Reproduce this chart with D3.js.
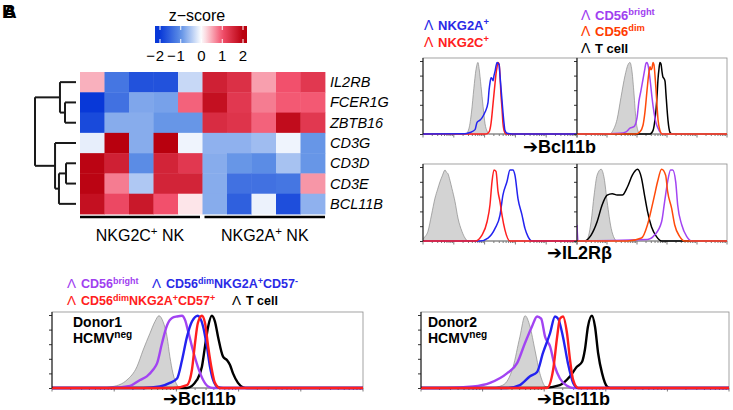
<!DOCTYPE html>
<html><head><meta charset="utf-8">
<script src="https://cdn.jsdelivr.net/npm/d3@7"></script>
<style>body{margin:0;background:#fff} svg text{font-family:"Liberation Sans",Arial,"DejaVu Sans",sans-serif}</style>
</head><body><svg id="c" width="733" height="410"></svg>
<script>
// ---------------- DATA ----------------
const genes = ["IL2RB","FCER1G","ZBTB16","CD3G","CD3D","CD3E","BCL11B"];
const samples = ["C1","C2","C3","C4","C5","A1","A2","A3","A4","A5"];
const groupNames = ["NKG2C","NKG2A"];
const groupMembers = [["C1","C2","C3","C4","C5"],["A1","A2","A3","A4","A5"]];
const zIL2RB  = [0.45,-1.3,-1.7,-1.7,-0.35,1.6,1.4,0.55,1.0,1.3];
const zFCER1G = [-2.0,-1.35,-0.8,-0.85,0.9,1.8,1.3,0.75,0.95,0.95];
const zZBTB16 = [-1.8,-0.75,-0.75,-0.95,-0.95,1.45,1.35,0.9,1.85,1.3];
const zCD3G   = [-0.15,2.2,-0.75,2.0,-0.1,-0.7,-0.7,-0.6,-0.1,-0.95];
const zCD3D   = [1.95,1.6,-1.05,1.55,1.3,-0.75,-0.95,-1.05,-0.55,-0.95];
const zCD3E   = [1.95,0.75,-0.5,1.55,1.55,-0.75,-1.35,-1.35,-1.3,0.6];
const zBCL11B = [1.8,1.1,1.7,1.0,0.15,-0.75,-1.55,-0.12,-1.75,-0.7];
const colorbarTicks = [-2,-1,0,1,2];
// dendrogram (merge heights)
const dendro = {h:45, children:[
  {h:17.6, children:[{name:"IL2RB"},{h:12.1, children:[{name:"FCER1G"},{name:"ZBTB16"}]}]},
  {h:23, children:[{name:"CD3G"},{h:18.7, children:[{h:11, children:[{name:"CD3D"},{name:"CD3E"}]},{name:"BCL11B"}]}]}
]};

// histogram curves: [position % of axis, count % of max]
const p1Gray = [[0,0],[27.9,0],[29.9,8],[31.5,30],[33,62],[34.4,88],[35.7,98],[36.4,90],[37.7,65],[39,38],[40.3,14],[41.6,4],[42.9,0],[100,0]];
const p1NKG2A = [[0,0],[27.3,0.5],[30.5,2],[33.8,6],[35.1,16],[37,19],[38.3,22],[40.3,30],[42.2,43],[42.9,60],[43.5,70],[44.2,77],[44.8,76],[45.5,73],[46.1,80],[46.8,86],[47.4,93],[48.1,98],[49.4,95],[50,80],[51.3,46],[52.6,15],[53.2,5],[54.5,1],[57.8,0],[100,0]];
const p1NKG2C = [[0,0],[40.9,0],[42.9,3],[44.2,15],[45.5,42],[46.8,70],[47.4,82],[48.1,92],[48.7,98],[49.4,96],[50,80],[50.6,55],[51.3,35],[51.9,15],[52.6,5],[53.9,0],[100,0]];

const p2Gray = [[0,0],[22,0],[24,5],[26.7,20],[29.3,50],[32,80],[34,95],[35.3,98],[36.7,85],[38,55],[39.3,20],[40.7,4],[42,0],[100,0]];
const p2Bright = [[0,0],[15.3,0],[28.7,1],[32.7,3],[35.3,8],[38,10],[40,22],[41.3,45],[42.7,60],[44,75],[45.3,90],[46,97],[46.7,98],[47.3,95],[48.7,75],[50,50],[51.3,30],[52.7,15],[54,8],[55.3,3],[57.3,0],[100,0]];
const p2Dim = [[0,0],[39.3,0],[42,3],[44,12],[45.3,30],[46.7,60],[48,85],[48.7,92],[49.3,88],[50,90],[50.7,98],[51.3,95],[52,80],[52.7,60],[53.3,40],[54,20],[55.3,5],[56.7,0],[100,0]];
const p2T = [[0,0],[48.7,0],[50.7,5],[52,20],[53.3,50],[54,75],[54.7,90],[55.3,98],[56,96],[56.7,85],[57.3,78],[58,76],[58.7,72],[59.3,55],[60,35],[60.7,18],[61.3,8],[62,2],[63.3,0],[100,0]];

const p3Gray = [[0,2],[0.6,4],[3.2,13],[5.5,35],[7.8,58],[9.5,70],[11,80],[12.5,88],[14.3,96],[15.2,93],[16.2,91],[17.5,82],[18.8,71],[20.8,53],[22.7,31],[25.3,13],[27.3,4],[29.2,0],[100,0]];
const p3NKG2C = [[0,0],[33.8,0],[38.3,8],[41.6,26],[43.5,49],[44.8,80],[46.1,96],[47.4,94],[48.7,67],[50,53],[51.3,35],[53.2,15],[56.5,0],[100,0]];
const p3NKG2A = [[0,0],[37,0],[42.2,4],[46.8,17],[50,35],[51.9,62],[54.5,80],[56.5,96],[58.4,96],[59.7,89],[61.7,57],[64.3,35],[66.2,17],[68.2,6],[70.8,0],[100,0]];

const p4Gray = [[0,0],[6,0],[9.4,26],[11.4,62],[13.4,89],[16.1,97],[18.1,85],[20.1,53],[22.8,17],[24.8,4],[26.8,0],[100,0]];
const p4T = [[0,0],[4.7,0],[9.4,8],[13.4,26],[16.8,49],[20.1,62],[23.5,64],[26.8,62],[30.2,62],[33.6,73],[36.9,89],[40.3,97],[43,85],[45,62],[47,40],[49.7,19],[53,6],[56.4,0],[100,0]];
const p4Dim = [[0,0],[33.6,0],[43,4],[47,22],[49.7,44],[51.7,62],[53.7,80],[56.4,97],[59.1,89],[60.4,67],[63.1,44],[65.1,22],[68.5,6],[71.8,0],[100,0]];
const p4Bright = [[0,22],[0.7,0],[47,2],[51.7,8],[56.4,26],[58.4,53],[60.4,80],[62.4,96],[63.8,96],[65.8,80],[67.1,49],[69.8,22],[73.2,6],[76.5,0],[100,0]];

const p5Gray = [[0,0],[15.4,0],[19.6,2],[24.1,11],[27.3,29],[29.3,52],[31.5,75],[33.1,91],[34.4,99],[35.7,91],[37,70],[37.9,43],[38.9,20],[40.2,4],[41.2,0],[100,0]];
const p5Bright = [[0,0],[18.6,0],[25.1,3],[28.3,11],[30.5,16],[32.5,25],[33.8,34],[35.4,62],[37,86],[38.6,96],[40.2,98],[41.8,99],[42.8,93],[43.7,79],[45.3,52],[46.9,29],[48.6,11],[50.2,2],[51.8,0],[100,0]];
const p5Neg = [[0,0],[29.3,0],[34.7,2],[37.9,7],[40.2,13],[41.8,38],[43.4,70],[45,91],[46.9,99],[48.6,84],[49.8,57],[50.8,29],[51.8,11],[53.4,1],[55,0],[100,0]];
const p5Pos = [[0,0],[38.9,0],[43.4,4],[45,25],[46,62],[46.9,89],[48.2,99],[49.2,89],[50.2,57],[51.4,25],[52.4,7],[54,0],[100,0]];
const p5T = [[0,0],[43.4,0],[46.6,11],[48.2,29],[49.2,57],[50.2,84],[51.4,99],[52.4,91],[53.4,70],[55,43],[56.3,38],[57.2,32],[58.2,20],[59.8,7],[61.4,1],[62.7,0],[100,0]];

const p6Gray = [[0,0],[22.4,0],[26.6,4],[29.9,29],[32.1,70],[33.8,99],[35.4,84],[37,52],[38.6,20],[40.3,2],[41.2,0],[100,0]];
const p6Bright = [[0,0],[8.4,0],[16.9,2],[22.4,7],[27.9,20],[31.2,34],[33.8,62],[36,84],[37.7,98],[39,95],[40.3,70],[41.9,57],[43.5,29],[45.1,13],[47.4,3],[49.4,0],[100,0]];
const p6Neg = [[0,0],[27.9,0],[32.1,4],[35.4,16],[37.7,22],[39.6,48],[41.9,75],[43.5,98],[44.5,95],[46.1,70],[47.7,34],[49.4,7],[51,0],[100,0]];
const p6Pos = [[0,0],[40.9,0],[42.9,25],[44.2,70],[45.1,95],[46.1,98],[47.4,75],[48.4,38],[49.4,11],[51,0],[100,0]];
const p6T = [[0,0],[39.6,0],[45.1,4],[48.4,16],[50.6,29],[52.3,36],[53.2,52],[54.2,84],[55.5,99],[56.5,84],[57.5,48],[58.8,20],[60.4,2],[61.4,0],[100,0]];

// ---------------- DRAW ----------------
const svg = d3.select("#c");
const C = {blue:"#2323f0", red:"#ff1f1f", purple:"#a244f2", orange:"#ff4a0a", black:"#000", gray:"#d3d3d3"};

function rich(g, x, y, parts, size, color, weight, anchor){
  const t = g.append("text").attr("x",x).attr("y",y).attr("font-size",size)
    .attr("font-weight",weight||"normal").attr("fill",color||"#000")
    .attr("text-anchor",anchor||"start");
  let pending = 0;
  parts.forEach(p=>{
    if(typeof p === "string"){
      const s = t.append("tspan").attr("font-size",size).text(p);
      if(pending){ s.attr("dy",pending); pending = 0; }
    } else {
      const sh = size*0.36;
      t.append("tspan").attr("font-size",size*0.72).attr("dy",-sh).text(p.sup);
      pending = sh;
    }
  });
  return t;
}

// panel letters (overlapping)
svg.append("text").attr("x",2).attr("y",18).attr("font-size",19).attr("font-weight","bold").text("B");
svg.append("text").attr("x",3).attr("y",18).attr("font-size",19).attr("font-weight","bold").text("A");

// heatmap
const zTable = {IL2RB:zIL2RB, FCER1G:zFCER1G, ZBTB16:zZBTB16, CD3G:zCD3G, CD3D:zCD3D, CD3E:zCD3E, BCL11B:zBCL11B};
const color = d3.scaleLinear().domain([-2,-1,0,1,2])
  .range(["#0838d8","#5f90e6","#ffffff","#f2506c","#b8000e"]).clamp(true);
const xb = d3.scaleBand().domain(samples).range([80,325]);
const yb = d3.scaleBand().domain(genes).range([72,214]);
const cells = [];
genes.forEach(g=>samples.forEach((s,i)=>cells.push({g,s,v:zTable[g][i]})));
svg.append("g").selectAll("rect").data(cells).join("rect")
  .attr("x",d=>xb(d.s)).attr("y",d=>yb(d.g))
  .attr("width",xb.bandwidth()+0.4).attr("height",yb.bandwidth()+0.4)
  .attr("fill",d=>color(d.v));
svg.append("g").selectAll("text").data(genes).join("text")
  .attr("x",330).attr("y",d=>yb(d)+yb.bandwidth()/2+5)
  .attr("font-size",14.5).attr("font-style","italic").text(d=>d);

// group bars + labels
groupMembers.forEach((m,i)=>{
  const xa = xb(m[0]) + (i===0?0:2), xz = xb(m[m.length-1])+xb.bandwidth() - (i===0?2.5:0);
  svg.append("line").attr("x1",xa).attr("x2",xz).attr("y1",217).attr("y2",217)
    .attr("stroke","#000").attr("stroke-width",2.6);
  rich(svg,(xa+xz)/2,241,[groupNames[i],{sup:"+"}," NK"],16,"#000","normal","middle");
});

// dendrogram
const root = d3.hierarchy(dendro);
const hx = d3.scaleLinear().domain([0,45]).range([76,35]);
root.eachAfter(n=>{
  if(!n.children){ n.py = yb(n.data.name)+yb.bandwidth()/2; n.px = hx(0); }
  else { n.py = d3.mean(n.children,c=>c.py); n.px = hx(n.data.h); }
});
const dg = svg.append("g").attr("fill","none").attr("stroke","#1a1a1a").attr("stroke-width",2);
root.each(n=>{
  if(n.children){
    const ys = n.children.map(c=>c.py);
    dg.append("line").attr("x1",n.px).attr("x2",n.px).attr("y1",d3.min(ys)).attr("y2",d3.max(ys));
    n.children.forEach(c=>dg.append("line").attr("x1",n.px).attr("x2",c.px).attr("y1",c.py).attr("y2",c.py));
  }
});

// colorbar
const cbx = d3.scaleLinear().domain([-2,2]).range([160,243]);
const cbLo = cbx.invert(155), cbHi = cbx.invert(247);
const defs = svg.append("defs");
const grad = defs.append("linearGradient").attr("id","cbg");
d3.range(0,1.0001,0.05).forEach(t=>{
  grad.append("stop").attr("offset",t).attr("stop-color",color(cbLo+(cbHi-cbLo)*t));
});
svg.append("rect").attr("x",155).attr("y",26).attr("width",92).attr("height",17).attr("fill","url(#cbg)");
colorbarTicks.forEach(v=>{
  svg.append("line").attr("x1",cbx(v)).attr("x2",cbx(v)).attr("y1",26).attr("y2",30).attr("stroke","#fff").attr("stroke-width",1);
  svg.append("line").attr("x1",cbx(v)).attr("x2",cbx(v)).attr("y1",39).attr("y2",43).attr("stroke","#fff").attr("stroke-width",1);
  svg.append("text").attr("x",cbx(v)).attr("y",61).attr("text-anchor","middle").attr("font-size",15).text(String(Math.abs(v)));
  if(v<0) svg.append("text").attr("x",cbx(v)-5).attr("y",61).attr("text-anchor","end").attr("font-size",15).text("\u2212");
});
svg.append("text").attr("x",197).attr("y",21).attr("text-anchor","middle").attr("font-size",16).text("z\u2212score");

// histogram panels
const panels = [
  {x0:423,x1:577,y0:58,y1:134,top:61,lw:1.5,curves:[[p1Gray,"gray"],[p1NKG2C,"red"],[p1NKG2A,"blue"]]},
  {x0:577,x1:727,y0:58,y1:134,top:61,lw:1.5,curves:[[p2Gray,"gray"],[p2T,"black"],[p2Bright,"purple"],[p2Dim,"orange"]]},
  {x0:423,x1:577,y0:164,y1:241,top:167,lw:1.5,curves:[[p3Gray,"gray"],[p3NKG2A,"blue"],[p3NKG2C,"red"]]},
  {x0:577,x1:727,y0:164,y1:241,top:167,lw:1.5,curves:[[p4Gray,"gray"],[p4T,"black"],[p4Bright,"purple"],[p4Dim,"orange"]]},
  {x0:52,x1:363,y0:312,y1:388,top:315,lw:2.4,curves:[[p5Gray,"gray"],[p5T,"black"],[p5Bright,"purple"],[p5Neg,"blue"],[p5Pos,"red"]]},
  {x0:421,x1:729,y0:312,y1:388,top:315,lw:2.4,curves:[[p6Gray,"gray"],[p6T,"black"],[p6Bright,"purple"],[p6Neg,"blue"],[p6Pos,"red"]]}
];
panels.forEach((p,i)=>{
  const g = svg.append("g");
  const x = d3.scaleLinear().domain([0,100]).range([p.x0,p.x1]);
  const y = d3.scaleLinear().domain([0,100]).range([p.y1,p.top]);
  defs.append("clipPath").attr("id","cp"+i).append("rect")
    .attr("x",p.x0).attr("y",p.y0-2).attr("width",p.x1-p.x0).attr("height",p.y1-p.y0+4);
  g.append("rect").attr("x",p.x0).attr("y",p.y0).attr("width",p.x1-p.x0).attr("height",p.y1-p.y0)
    .attr("fill","#fff").attr("stroke","#8c8c8c").attr("stroke-width",0.8);
  const ya = d3.axisLeft(y).tickValues([0,20,40,60,80,100]).tickSize(3).tickFormat("");
  const ag = g.append("g").attr("transform",`translate(${p.x0},0)`).call(ya);
  ag.select(".domain").remove();
  ag.selectAll("line").attr("stroke","#333");
  const lx = d3.scaleLog().domain([1,1e5]).range([p.x0,p.x1]);
  const bt = g.append("g");
  lx.ticks().forEach(t=>{
    const major = Math.abs(Math.log10(t)-Math.round(Math.log10(t)))<1e-9;
    bt.append("line").attr("x1",lx(t)).attr("x2",lx(t)).attr("y1",p.y1).attr("y2",p.y1+(major?3.5:2))
      .attr("stroke","#444").attr("stroke-width",0.7);
  });
  const cg = g.append("g").attr("clip-path",`url(#cp${i})`);
  p.curves.forEach(([data,col])=>{
    if(col==="gray"){
      const area = d3.area().x(d=>x(d[0])).y0(y(0)).y1(d=>y(d[1])).curve(d3.curveMonotoneX);
      cg.append("path").attr("d",area(data)).attr("fill",C.gray).attr("stroke","#8a8a8a").attr("stroke-width",0.7);
    } else {
      const line = d3.line().x(d=>x(d[0])).y(d=>y(d[1])).curve(d3.curveMonotoneX);
      cg.append("path").attr("d",line(data)).attr("fill","none").attr("stroke",C[col])
        .attr("stroke-width",p.lw).attr("stroke-linejoin","round");
    }
  });
  g.append("line").attr("x1",p.x0).attr("x2",p.x0).attr("y1",p.y0).attr("y2",p.y1).attr("stroke","#111").attr("stroke-width",1);
});

// legends
const LC = {blue:"#2a2ae6", red:"#ff2020", purple:"#a040f0", orange:"#ff3b00", black:"#000"};
function legendItem(x,y,parts,col,size){
  svg.append("text").attr("x",x).attr("y",y).attr("font-size",size+1).attr("fill",LC[col]).text("\u039b");
  rich(svg,x+14,y,parts,size,LC[col],"bold");
}
legendItem(424,30,["NKG2A",{sup:"+"}],"blue",13);
legendItem(424,47,["NKG2C",{sup:"+"}],"red",13);
legendItem(581,20,["CD56",{sup:"bright"}],"purple",13);
legendItem(581,36,["CD56",{sup:"dim"}],"orange",13);
legendItem(581,53,["T cell"],"black",13);

legendItem(67,288,["CD56",{sup:"bright"}],"purple",12.5);
legendItem(152,288,["CD56",{sup:"dim"},"NKG2A",{sup:"+"},"CD57",{sup:"-"}],"blue",12.5);
legendItem(67,305,["CD56",{sup:"dim"},"NKG2A",{sup:"+"},"CD57",{sup:"+"}],"red",12.5);
legendItem(232,305,["T cell"],"black",12.5);

// donor labels
rich(svg,73,327,["Donor1"],14,"#000","bold");
rich(svg,73,343,["HCMV",{sup:"neg"}],14,"#000","bold");
rich(svg,428,327,["Donor2"],14,"#000","bold");
rich(svg,428,343,["HCMV",{sup:"neg"}],14,"#000","bold");

// axis titles
const axisTitles = [[523,153,"\u2794Bcl11b"],[547,259,"\u2794IL2R\u03b2"],[163,405,"\u2794Bcl11b"],[537,405,"\u2794Bcl11b"]];
axisTitles.forEach(([x,y,t])=>{
  svg.append("text").attr("x",x).attr("y",y).attr("font-size",18).attr("font-weight","bold").text(t);
});
</script></body></html>
